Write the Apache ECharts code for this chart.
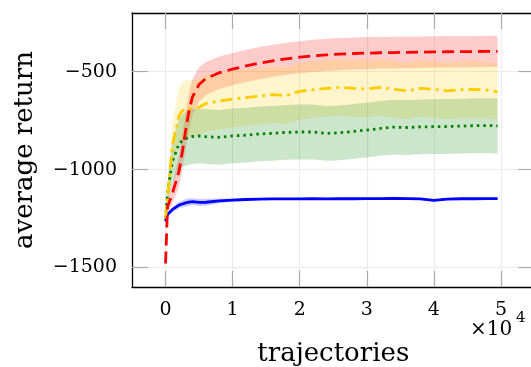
<!DOCTYPE html>
<html>
<head>
<meta charset="utf-8">
<script src="https://cdn.jsdelivr.net/npm/echarts@6/dist/echarts.min.js"></script>
<style>
  html, body { margin: 0; padding: 0; background: #fff; }
  #chart { width: 531px; height: 367px; }
</style>
</head>
<body>
<div id="chart"></div>
<script>
// trajectories, in units of 10^4
const xs = [0, 0.03, 0.1, 0.2, 0.25, 0.3, 0.35, 0.4, 0.5, 0.6, 0.8, 1.0, 1.2, 1.4, 1.6, 1.8, 2.0,
            2.2, 2.4, 2.6, 2.8, 3.0, 3.2, 3.4, 3.6, 3.8, 4.0, 4.2, 4.4, 4.6, 4.8, 4.95]

const redMean = [-1480, -1190, -1125, -1010, -910, -800, -700, -630, -565, -535, -505, -487, -470, -456, -444, -434,
                 -426, -419, -414, -410, -407, -405, -403, -402, -401, -400, -399, -398, -397, -397, -396, -396]
const redSpread = [10, 30, 50, 80, 90, 95, 95, 92, 88, 85, 83, 82, 82, 82, 82, 82,
                   82, 82, 82, 82, 82, 82, 81, 81, 81, 80, 80, 80, 80, 80, 80, 80]

const goldMean = [-1250, -1140, -880, -725, -700, -690, -688, -690, -682, -662, -650, -640, -632, -625, -617, -622,
                  -600, -592, -585, -580, -585, -588, -580, -590, -597, -585, -590, -598, -592, -590, -594, -603]
const goldSpread = [20, 60, 120, 140, 145, 145, 145, 145, 145, 145, 145, 145, 145, 145, 145, 145,
                    145, 145, 145, 145, 145, 145, 145, 145, 145, 145, 145, 145, 145, 145, 145, 145]

const greenMean = [-1250, -1120, -960, -870, -852, -842, -835, -831, -828, -832, -835, -828, -824, -818, -815, -810,
                   -808, -808, -815, -812, -805, -798, -790, -783, -785, -782, -781, -780, -778, -776, -775, -777]
const greenSpread = [20, 60, 110, 130, 135, 138, 140, 140, 140, 140, 140, 140, 140, 140, 140, 140,
                     140, 140, 140, 140, 140, 140, 140, 140, 140, 140, 140, 140, 140, 140, 140, 142]

const blueMean = [-1265, -1230, -1205, -1182, -1176, -1170, -1166, -1164, -1168, -1167, -1160, -1156, -1153, -1151, -1150, -1150,
                  -1150, -1149, -1150, -1148, -1149, -1148, -1148, -1147, -1148, -1150, -1157, -1151, -1149, -1149, -1148, -1148]
const blueSpread = [4, 8, 12, 16, 18, 20, 20, 18, 18, 18, 12, 8, 6, 5, 5, 5,
                    5, 5, 5, 5, 5, 5, 5, 5, 5, 5, 5, 5, 5, 5, 5, 5]

const xTicks = [0, 1, 2, 3, 4, 5]
const yTicks = [-1500, -1000, -500]

const serif = 'DejaVu Serif'
const tickGray = '#aaaaaa'

function fmt(v) {
    return v < 0 ? '\u2212' + Math.abs(v) : String(v)
}

// shaded band drawn as one polygon: upper edge forward, lower edge back
function band(mean, spread, color) {
    const data = xs.map((x, i) => [x, mean[i] - spread[i], mean[i] + spread[i]])
    return {
        type: 'custom', silent: true, z: 1,
        data: data,
        encode: { x: 0, y: [1, 2] },
        renderItem: function (params, api) {
            if (params.dataIndex !== 0) return null
            const upper = data.map(d => api.coord([d[0], d[2]]))
            const lower = data.map(d => api.coord([d[0], d[1]])).reverse()
            return {
                type: 'polygon',
                shape: { points: upper.concat(lower) },
                style: { fill: color, opacity: 0.2 }
            }
        }
    }
}

function line(mean, color, dash) {
    return {
        type: 'line', symbol: 'none', silent: true, z: 3,
        data: xs.map((x, i) => [x, mean[i]]),
        lineStyle: { color: color, width: 2.8, type: dash, cap: 'butt' }
    }
}

const series = [
    band(redMean, redSpread, '#ff0000'),
    band(goldMean, goldSpread, '#ffcc00'),
    band(greenMean, greenSpread, '#008000'),
    band(blueMean, blueSpread, '#0000ff'),
    line(blueMean, '#0000ff', 'solid'),
    line(greenMean, '#008000', [2.5, 4]),
    line(goldMean, '#ffcc00', [12, 5, 3, 5]),
    line(redMean, '#ff0000', [12, 6])
]

const tickCommon = { show: true, inside: true, length: 16, lineStyle: { color: tickGray, width: 1.2 } }
const frame = { show: true, onZero: false, lineStyle: { color: '#000', width: 1.3 } }

let myChart = echarts.init(document.getElementById('chart'))
myChart.setOption({
    animation: false,
    grid: { left: 132, top: 13, width: 402.5, bottom: 80, outerBoundsMode: 'none', containLabel: false },
    xAxis: [
        {
            type: 'value', min: -0.5, max: 5.5, position: 'bottom',
            name: 'trajectories', nameLocation: 'middle', nameGap: 54,
            nameTextStyle: { fontFamily: serif, fontSize: 26, color: '#000' },
            axisLine: frame,
            axisTick: Object.assign({ customValues: xTicks }, tickCommon),
            axisLabel: { customValues: xTicks, formatter: fmt, margin: 14, fontFamily: serif, fontSize: 19, color: '#000' },
            splitLine: { show: true, lineStyle: { color: '#ececec', width: 1.2 } }
        },
        {
            type: 'value', min: -0.5, max: 5.5, position: 'top',
            axisLine: frame,
            axisTick: Object.assign({ customValues: xTicks }, tickCommon),
            axisLabel: { show: false },
            splitLine: { show: false }
        }
    ],
    yAxis: [
        {
            type: 'value', min: -1600, max: -200, position: 'left',
            name: 'average return', nameLocation: 'middle', nameGap: 94,
            nameTextStyle: { fontFamily: serif, fontSize: 26, color: '#000' },
            axisLine: frame,
            axisTick: Object.assign({ customValues: yTicks }, tickCommon),
            axisLabel: { customValues: yTicks, formatter: fmt, margin: 15, fontFamily: serif, fontSize: 19, color: '#000' },
            splitLine: { show: true, lineStyle: { color: '#ececec', width: 1.2 } }
        },
        {
            type: 'value', min: -1600, max: -200, position: 'right',
            axisLine: frame,
            axisTick: Object.assign({ customValues: yTicks }, tickCommon),
            axisLabel: { show: false },
            splitLine: { show: false }
        }
    ],
    graphic: [
        { type: 'text', left: 470, top: 320, style: { text: '\u00d710', fontFamily: serif, fontSize: 20, fill: '#000' } },
        { type: 'text', left: 516, top: 311, style: { text: '4', fontFamily: serif, fontSize: 15, fill: '#000' } }
    ],
    series: series
})
</script>
</body>
</html>
